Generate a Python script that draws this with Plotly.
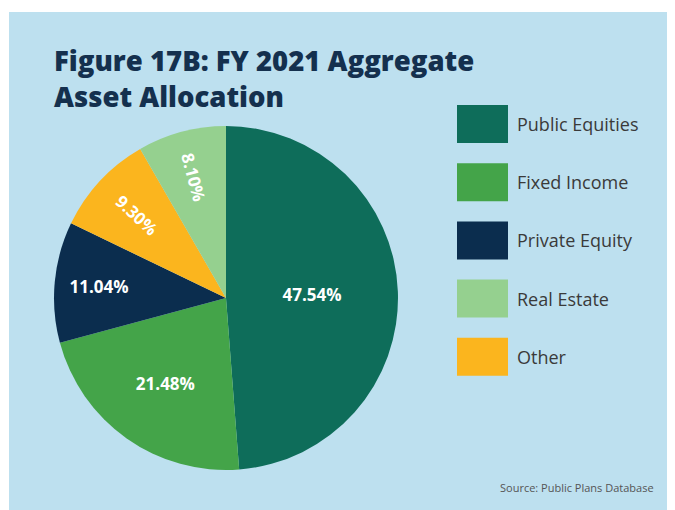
import plotly.graph_objects as go

# Data
labels = ["Public Equities", "Fixed Income", "Private Equity", "Other", "Real Estate"]
values = [47.54, 21.48, 11.04, 9.30, 8.10]
colors = ["#0E6D5A", "#44A449", "#0B2D4E", "#FBB51E", "#95D08F"]
legend_order = ["Public Equities", "Fixed Income", "Private Equity", "Real Estate", "Other"]
radial_labels = ["Other", "Real Estate"]

title_lines = ["Figure 17B: FY 2021 Aggregate", "Asset Allocation"]
source_text = "Source: Public Plans Database"

# The page body has an 8px margin; the figure is sized so it fills the 675x510 window.
OFF = 8
W, H = 675 - OFF, 510 - OFF
BG = "#BDE0EF"

def px(x):
    return (x - OFF) / W

def py(y):
    return 1 - (y - OFF) / H

texts = [f"{v:.2f}%" for v in values]
text_main = [t if l not in radial_labels else "" for t, l in zip(texts, labels)]
text_rad = [t if l in radial_labels else "" for t, l in zip(texts, labels)]

cx, cy, R = 226, 298, 172
domain = dict(x=[px(cx - R), px(cx + R)], y=[py(cy + R), py(cy - R)])

fig = go.Figure()
fig.add_trace(go.Pie(
    labels=labels, values=values, sort=False, direction="clockwise", rotation=0,
    marker=dict(colors=colors, line=dict(width=0)),
    text=text_main, texttemplate="%{text}", textposition="inside",
    insidetextorientation="horizontal",
    textfont=dict(family="Open Sans", size=17, color="white", weight=700),
    domain=domain, showlegend=False, hoverinfo="label+value",
))
fig.add_trace(go.Pie(
    labels=labels, values=values, sort=False, direction="clockwise", rotation=0,
    marker=dict(colors=["rgba(0,0,0,0)"] * len(labels), line=dict(width=0)),
    text=text_rad, texttemplate="%{text}", textposition="inside",
    insidetextorientation="radial",
    textfont=dict(family="Open Sans", size=17, color="white", weight=700),
    domain=domain, showlegend=False, hoverinfo="skip",
))

shapes = [
    dict(type="rect", xref="paper", yref="paper", x0=px(9), x1=1, y0=0, y1=py(12),
         fillcolor=BG, line=dict(width=0), layer="below"),
]
annotations = [
    dict(text="<br>".join(title_lines), x=px(52), y=py(78), xref="paper", yref="paper",
         xanchor="left", yanchor="middle", align="left", showarrow=False,
         font=dict(family="Open Sans", size=27.5, color="#14304E", weight=800)),
    dict(text=source_text, x=px(656), y=py(487), xref="paper", yref="paper",
         xanchor="right", yanchor="middle", showarrow=False,
         font=dict(family="Open Sans", size=11, color="#555555")),
]

color_of = dict(zip(labels, colors))
for i, lab in enumerate(legend_order):
    top = 105 + i * 58.2
    shapes.append(dict(type="rect", xref="paper", yref="paper",
                       x0=px(457), x1=px(508), y0=py(top + 38), y1=py(top),
                       fillcolor=color_of[lab], line=dict(width=0)))
    annotations.append(dict(text=lab, x=px(515), y=py(top + 19), xref="paper", yref="paper",
                            xanchor="left", yanchor="middle", showarrow=False,
                            font=dict(family="Open Sans", size=18, color="#3A3A3A")))

fig.update_layout(
    width=W, height=H, margin=dict(l=0, r=0, t=0, b=0),
    paper_bgcolor="white", plot_bgcolor="white",
    shapes=shapes, annotations=annotations, showlegend=False,
)

fig.write_html("out.html")
